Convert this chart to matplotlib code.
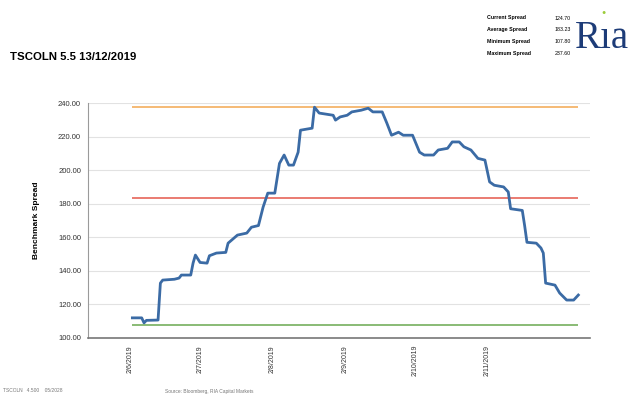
import matplotlib.pyplot as plt
import pandas as pd

plt.rcParams['font.family'] = ['Liberation Sans', 'DejaVu Sans']

# spread history, days counted from the first axis date
start = pd.Timestamp('2019-06-02')
day_offset = [1, 5, 6, 7, 12, 13, 14, 19, 21, 22, 26, 27, 28, 30, 33, 34, 37, 41,
              42, 46, 50, 52, 55, 57, 59, 62, 64, 66, 68, 70, 72, 73, 78, 79, 81,
              87, 88, 90, 93, 95, 99, 102, 104, 108, 110, 112, 115, 117, 121, 124,
              126, 130, 132, 136, 138, 141, 143, 146, 149, 152, 154, 156, 160, 162,
              163, 168, 169, 170, 174, 176, 177, 178, 182, 184, 187, 190, 192]
spread = [112.0, 112.0, 109.0, 110.5, 110.7, 132.7, 134.5, 135.0, 135.7, 137.5,
          137.5, 144.6, 149.4, 145.0, 144.6, 149.0, 150.6, 151.0, 156.5, 161.3,
          162.5, 166.0, 167.0, 178.0, 186.3, 186.3, 204.0, 209.0, 203.0, 203.0,
          210.7, 223.8, 225.0, 237.5, 234.0, 232.7, 229.8, 231.7, 232.7, 234.7,
          235.7, 236.9, 234.7, 234.7, 228.0, 220.8, 222.6, 220.8, 220.8, 210.7,
          209.0, 209.0, 212.0, 213.0, 216.8, 216.8, 213.9, 212.0, 207.0, 206.0,
          193.0, 191.0, 190.0, 187.0, 177.0, 176.0, 167.0, 157.0, 156.5, 153.6,
          150.6, 132.7, 131.5, 126.8, 122.6, 122.6, 125.6]

stat_labels = ['Current Spread', 'Average Spread', 'Minimum Spread', 'Maximum Spread']
stat_values = [124.70, 183.23, 107.80, 237.60]
max_spread = 237.60
avg_spread = 183.23
min_spread = 107.80

tick_dates = ['2019-06-02', '2019-07-02', '2019-08-02', '2019-09-02', '2019-10-02', '2019-11-02']
y_ticks = [100, 120, 140, 160, 180, 200, 220, 240]

dates = [start + pd.Timedelta(days=d) for d in day_offset]

fig = plt.figure(figsize=(6.32, 3.99), dpi=100)
ax = fig.add_axes([88 / 632, 1 - 338 / 399, 502 / 632, 235 / 399])

ax.hlines(max_spread, dates[0], dates[-1], color='#f5b46a', lw=1.3)
ax.hlines(avg_spread, dates[0], dates[-1], color='#e4574a', lw=1.1)
ax.hlines(min_spread, dates[0], dates[-1], color='#6aa84f', lw=1.1)
ax.plot(dates, spread, color='#3b6ba5', lw=2.0, solid_joinstyle='round')

ax.set_ylim(100, 240)
ax.set_yticks(y_ticks)
ax.set_yticklabels(['%.2f' % v for v in y_ticks], fontsize=5.5, color='#333333')
ax.set_xlim(start - pd.Timedelta(days=18), start + pd.Timedelta(days=197))
tds = pd.to_datetime(tick_dates)
ax.set_xticks(tds)
ax.set_xticklabels(['%d/%d/%d' % (t.day, t.month, t.year) for t in tds],
                   rotation=90, fontsize=5, color='#333333')
ax.tick_params(axis='both', length=0, pad=5)
ax.grid(axis='y', color='#e2e2e2', lw=0.8)
ax.set_axisbelow(True)
for s in ['top', 'right']:
    ax.spines[s].set_visible(False)
ax.spines['left'].set_color('#9a9a9a')
ax.spines['bottom'].set_color('#777777')
ax.spines['bottom'].set_linewidth(1.2)
ax.set_ylabel('Benchmark Spread', fontsize=6, fontweight='bold', labelpad=13)

fig.text(10 / 632, 1 - 57 / 399, 'TSCOLN 5.5 13/12/2019', fontsize=8.2,
         fontweight='bold', va='center', ha='left')

for i, (lab, val) in enumerate(zip(stat_labels, stat_values)):
    y = 1 - (18 + i * 11.7) / 399
    fig.text(487 / 632, y, lab, fontsize=3.8, fontweight='bold', va='center')
    fig.text(555 / 632, y, '%.2f' % val, fontsize=3.8, va='center')

# logo
fig.text(575 / 632, 1 - 48 / 399, 'R\u0131a', fontsize=28, color='#1d3c78',
         family='Liberation Serif', va='baseline', ha='left')
fig.text(604 / 632, 1 - 12 / 399, '\u25cf', fontsize=5, color='#9ccc3c',
         ha='center', va='center')

fig.text(3 / 632, 1 - 391 / 399, 'TSCOLN   4.500    05/2028', fontsize=3.5,
         color='#777777', va='center')
fig.text(165 / 632, 1 - 391 / 399, 'Source: Bloomberg, RIA Capital Markets', fontsize=3.5,
         color='#777777', va='center')

fig.savefig('out.png', dpi=100)
